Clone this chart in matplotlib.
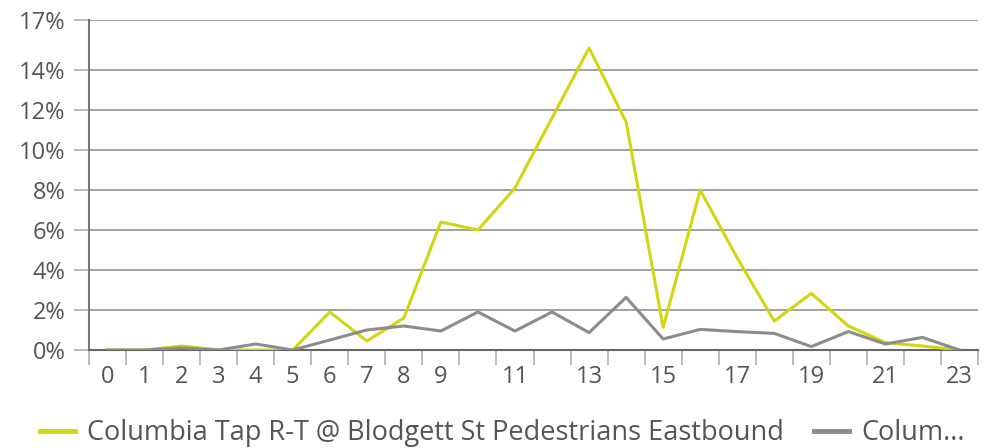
import numpy as np
import matplotlib
matplotlib.use("Agg")
import matplotlib.pyplot as plt
from matplotlib.ticker import FixedLocator, FixedFormatter

plt.rcParams['font.family'] = ['Open Sans', 'DejaVu Sans']

hours = list(range(24))
eastbound = [0, 0, 0.2, 0, 0, 0, 1.9, 0.45, 1.6, 6.4, 6.0, 8.1, 11.6, 15.1,
             11.4, 1.13, 8.0, 4.6, 1.45, 2.83, 1.2, 0.37, 0.2, 0]
other = [0, 0, 0.1, 0, 0.3, 0, 0.5, 1.0, 1.2, 0.95, 1.9, 0.95, 1.9, 0.87,
         2.63, 0.55, 1.03, 0.92, 0.83, 0.17, 0.92, 0.3, 0.63, 0]
ytick_vals = [0, 2, 4, 6, 8, 10, 12, 14, 16.5]
ytick_labels = ['0%', '2%', '4%', '6%', '8%', '10%', '12%', '14%', '17%']
xlabel_hours = [0, 1, 2, 3, 4, 5, 6, 7, 8, 9, 11, 13, 15, 17, 19, 21, 23]

names = ['Columbia Tap R-T @ Blodgett St Pedestrians Eastbound', 'Colum...']
colors = ['#d0d612', '#8c8c8c']
text_color = '#555555'

fig = plt.figure(figsize=(9.89, 4.48), dpi=100)
ax = fig.add_axes([89 / 989, 1 - 350 / 448, (978 - 89) / 989, 330 / 448])

ax.plot(hours, eastbound, color=colors[0], lw=2.2, label=names[0], zorder=3)
ax.plot(hours, other, color=colors[1], lw=2.2, label=names[1], zorder=4)

ax.set_xlim(-0.5, 23.5)
ax.set_ylim(0, 16.5)

ax.yaxis.set_major_locator(FixedLocator(ytick_vals))
ax.yaxis.set_major_formatter(FixedFormatter(ytick_labels))
ax.grid(axis='y', color='#9a9a9a', lw=1.3, zorder=1)

# category axis: ticks on boundaries, labels centred
ax.set_xticks([h - 0.5 for h in range(25)])
ax.set_xticklabels([])
ax.set_xticks(xlabel_hours, minor=True)
ax.set_xticklabels([str(h) for h in xlabel_hours], minor=True)
ax.tick_params(axis='x', which='major', length=11, width=1.2, color='#b0b0b0',
               direction='out')
ax.tick_params(axis='x', which='minor', length=0, pad=11, labelsize=17,
               labelcolor=text_color)
ax.tick_params(axis='y', length=11, width=1.2, color='#b0b0b0', pad=6,
               labelsize=17, labelcolor=text_color)

for side in ['top', 'right']:
    ax.spines[side].set_visible(False)
ax.spines['left'].set_color('#777777')
ax.spines['left'].set_linewidth(1.5)
ax.spines['bottom'].set_color('#666666')
ax.spines['bottom'].set_linewidth(1.5)

leg = fig.legend(loc='center left', bbox_to_anchor=(40 / 989, 1 - 433 / 448),
                 ncol=2, frameon=False, fontsize=19.5, handlelength=1.3,
                 columnspacing=1.1, handletextpad=0.45, borderpad=0,
                 borderaxespad=0, labelcolor=text_color)
for line in leg.get_lines():
    line.set_linewidth(3.5)

fig.savefig('out.png', dpi=100)
